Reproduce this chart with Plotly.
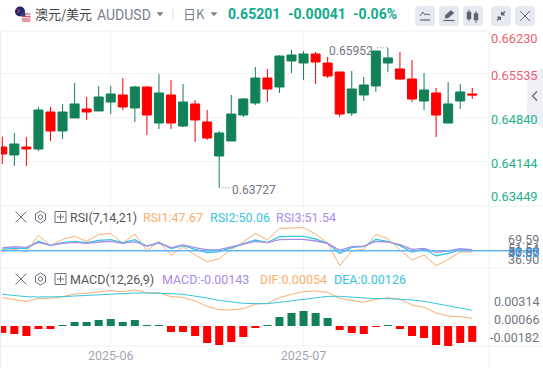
import plotly.graph_objects as go

W, H = 543, 368

open_ = [.64373,.64246,.64373,.64341,.64930,.64628,.64835,.64978,.64946,.65089,.65201,.64994,.65328,.64755,.65201,.64707,.65058,.64771,.64230,.64469,
         .64882,.65073,.65471,.65328,.65742,.65710,.65853,.65710,.65567,.64914,.65201,.65344,.65710,.65615,.65455,.65105,.65233,.64755,.65105,.65217]
high =  [.64538,.64596,.64532,.65010,.65010,.65058,.65392,.65169,.65344,.65344,.65471,.65344,.65344,.65535,.65440,.65376,.65121,.64962,.64628,.65201,
         .65153,.65646,.65615,.65837,.65917,.65901,.65885,.65806,.65567,.65583,.65487,.65901,.65952,.65885,.65758,.65551,.65312,.65408,.65376,.65312]
low =   [.64103,.64071,.64071,.64310,.64469,.64501,.64835,.64803,.64946,.64898,.64962,.64771,.64564,.64660,.64660,.64692,.64453,.64485,.63727,.64469,
         .64851,.65042,.65089,.65233,.65551,.65440,.65376,.65471,.64851,.64867,.65105,.65249,.65567,.65440,.65089,.64962,.64532,.64755,.64978,.65137]
close = [.64262,.64421,.64341,.64962,.64628,.64930,.65058,.64930,.65169,.65217,.65010,.65328,.64882,.65233,.64755,.65089,.64803,.64516,.64596,.64898,
         .65137,.65471,.65296,.65821,.65837,.65853,.65726,.65503,.64898,.65296,.65360,.65901,.65790,.65455,.65137,.65280,.64882,.65058,.65249,.65201]

rsi1 = [48.4,52.2,48.4,75.1,58.2,68.5,73.4,65.3,76.1,78.3,62.0,77.2,50.0,65.3,42.4,56.5,42.9,32.0,36.9,52.2,
        64.2,78.3,67.4,86.5,87.0,87.6,77.2,62.0,25.5,49.5,52.2,76.7,69.6,51.1,34.7,42.9,25.5,35.8,47.8,47.67]
rsi2 = [52.2,54.4,53.3,65.3,58.7,63.1,65.3,63.1,66.9,68.0,63.1,68.0,57.1,63.6,53.3,58.2,52.2,46.7,48.4,54.9,
        61.4,67.4,63.1,72.9,73.4,73.4,69.1,62.0,45.6,55.4,56.5,68.5,65.3,58.2,47.8,52.7,41.8,45.6,51.6,50.06]
rsi3 = [54.4,56.5,55.4,63.6,58.7,62.0,63.6,62.0,64.2,65.3,62.0,64.7,57.6,62.5,54.9,59.3,54.9,51.1,51.6,56.5,
        60.9,65.3,63.1,68.0,68.5,68.5,65.8,62.0,50.5,56.5,57.6,65.3,64.2,59.8,52.2,53.8,47.3,49.5,53.3,51.54]
rsi_flat = 50.00

dif = [.00240,.00222,.00204,.00234,.00234,.00249,.00273,.00279,.00291,.00303,.00294,.00309,.00285,.00285,.00249,.00243,.00210,.00162,.00132,.00129,
       .00141,.00183,.00189,.00240,.00270,.00294,.00300,.00288,.00234,.00213,.00198,.00225,.00240,.00225,.00174,.00153,.00102,.00075,.00069,.00054]
dea = [.00270,.00258,.00249,.00246,.00246,.00249,.00255,.00261,.00264,.00270,.00276,.00282,.00282,.00282,.00276,.00270,.00255,.00237,.00216,.00201,
       .00189,.00186,.00186,.00198,.00210,.00225,.00240,.00252,.00252,.00243,.00234,.00231,.00231,.00228,.00219,.00207,.00186,.00165,.00144,.00126]
hist = [-.00063,-.00072,-.00090,-.00027,-.00027,.00005,.00036,.00036,.00054,.00063,.00036,.00054,.00005,.00005,-.00054,-.00054,-.00090,-.00153,-.00171,-.00144,
        -.00099,-.00010,.00005,.00081,.00117,.00135,.00117,.00072,-.00036,-.00063,-.00072,-.00009,.00005,-.00027,-.00090,-.00108,-.00171,-.00180,-.00153,-.00143]

price_ticks = [.66230,.65535,.64840,.64144,.63449]
date_ticks = [9, 25]
date_labels = ["2025-06", "2025-07"]
macd_labels = ["0.00314", "0.00066", "-0.00182"]

GREEN, RED = "#128158", "#ff0000"
ORANGE, CYAN, PURPLE = "#f9ae6d", "#35c6df", "#a98be8"
GRID, SEP = "#f3f4f7", "#eef0f3"
GREY = "#72757f"
idx = list(range(len(close)))


def px(x):
    return x / W


def py(y):
    return 1 - y / H


fig = go.Figure()
fig.add_trace(go.Candlestick(x=idx, open=open_, high=high, low=low, close=close, xaxis="x", yaxis="y",
                             increasing=dict(line=dict(color=GREEN, width=1), fillcolor=GREEN),
                             decreasing=dict(line=dict(color=RED, width=1), fillcolor=RED),
                             whiskerwidth=0))
# dotted leaders for the extreme labels
fig.add_trace(go.Scatter(x=[18, 18.85], y=[min(low)] * 2, mode="lines", line=dict(color="#888", width=1, dash="1px 2px"), xaxis="x", yaxis="y"))
fig.add_trace(go.Scatter(x=[31.1, 32], y=[max(high)] * 2, mode="lines", line=dict(color="#888", width=1, dash="1px 2px"), xaxis="x", yaxis="y"))

for vals, col in ((rsi1, ORANGE), (rsi2, CYAN), (rsi3, PURPLE)):
    w = 1 if col == ORANGE else 1.3
    fig.add_trace(go.Scatter(x=idx, y=vals, mode="lines", line=dict(color=col, width=w), xaxis="x2", yaxis="y2"))

fig.add_trace(go.Bar(x=idx, y=hist, width=0.665, marker=dict(color=[GREEN if v > 0 else RED for v in hist], line=dict(width=0)),
                     xaxis="x3", yaxis="y4"))
fig.add_trace(go.Scatter(x=idx, y=dif, mode="lines", line=dict(color=ORANGE, width=1), xaxis="x3", yaxis="y3"))
fig.add_trace(go.Scatter(x=idx, y=dea, mode="lines", line=dict(color=CYAN, width=1), xaxis="x3", yaxis="y3"))

xrange_ = [-0.108, 40.39]
xdom = [px(1), px(489)]
xcommon = dict(domain=xdom, range=xrange_, tickmode="array", tickvals=date_ticks, showgrid=True, gridcolor=GRID,
               gridwidth=1, zeroline=False, showline=False, ticks="", fixedrange=True)
ycommon = dict(side="right", showticklabels=False, zeroline=False, showline=False, ticks="", fixedrange=True)

annos = []


def text(x, y, s, color=GREY, size=12.5, anchor="left", bold=False, family="Roboto, 'Noto Sans CJK SC', sans-serif"):
    annos.append(dict(x=px(x), y=py(y), xref="paper", yref="paper", text=f"<b>{s}</b>" if bold else s, showarrow=False,
                      xanchor=anchor, yanchor="middle", font=dict(color=color, size=size, family=family),
                      borderpad=0, borderwidth=0))


# right-hand price labels positioned through the price axis, nudged inward at the extremes
shifts = [-8, -2, -2, -2, 9]
for p, sh in zip(price_ticks, shifts):
    annos.append(dict(x=px(540), y=p, xref="paper", yref="y", text=f"{p:.5f}", showarrow=False, xanchor="right", yanchor="middle",
                      yshift=sh, font=dict(size=12.8, color="#e8616f" if p > close[-1] else "#1fae8e",
                                           family="Roboto, sans-serif")))
annos.append(dict(x=18, y=min(low), xref="x", yref="y", text="0.63727", showarrow=False, xanchor="left", yanchor="middle",
                  xshift=11, yshift=-2, font=dict(size=12, color=GREY, family="Roboto, sans-serif")))
annos.append(dict(x=32, y=max(high), xref="x", yref="y", text="0.65952", showarrow=False, xanchor="right", yanchor="middle",
                  xshift=-13, yshift=-3, font=dict(size=12, color=GREY, family="Roboto, sans-serif")))

# header
text(35, 13.5, "澳元/美元", "#444", 13, family="'Noto Sans CJK SC', sans-serif")
text(97, 15, "AUDUSD", "#7b7f8e", 14)
text(183, 13.5, "日K", "#7b7f8e", 13, family="'Noto Sans CJK SC', sans-serif")
text(228, 14, "0.65201", "#0dab8c", 14, bold=True)
text(288, 14, "-0.00041", "#0dab8c", 14, bold=True)
text(353, 14, "-0.06%", "#0dab8c", 14, bold=True)

# RSI legend and labels
text(70, 217.5, "RSI(7,14,21)", "#555", 12.5)
text(143, 217.5, f"RSI1:{rsi1[-1]:.2f}", ORANGE, 12.5)
text(210, 217.5, f"RSI2:{rsi2[-1]:.2f}", CYAN, 12.5)
text(276, 217.5, f"RSI3:{rsi3[-1]:.2f}", PURPLE, 12.5)
for s, y, c in (("69.59", 239.5, GREY), (f"{rsi3[-1]:.2f}", 248.5, GREY), (f"{rsi1[-1]:.2f}", 252.5, GREY),
                (f"{rsi2[-1]:.2f}", 251, GREY), ("36.90", 259.5, GREY), (f"{rsi_flat:.2f}", 252, "#2f9df2")):
    text(539, y, s, c, 12.5, anchor="right")

# MACD legend and labels
text(70, 279.5, "MACD(12,26,9)", "#555", 12.5)
text(162, 279.5, f"MACD:{hist[-1]:.5f}", PURPLE, 12.5)
text(260, 279.5, f"DIF:{dif[-1]:.5f}", ORANGE, 12.5)
text(334, 279.5, f"DEA:{dea[-1]:.5f}", CYAN, 12.5)
for s, y in zip(macd_labels, (301.5, 319.5, 337.5)):
    text(539, y, s, GREY, 12.5, anchor="right")

shapes = []


def line(x0, y0, x1, y1, color=SEP, width=1):
    shapes.append(dict(type="line", xref="paper", yref="paper", x0=px(x0), y0=py(y0), x1=px(x1), y1=py(y1),
                       line=dict(color=color, width=width), layer="below"))


def path(points, color="#70737f", width=1.2, fill=None, closed=False, layer="above"):
    d = "M" + " L".join(f"{px(a):.5f},{py(b):.5f}" for a, b in points) + (" Z" if closed else "")
    shapes.append(dict(type="path", xref="paper", yref="paper", path=d, fillcolor=fill or "rgba(0,0,0,0)",
                       line=dict(color=color, width=width), layer=layer))


def rrect(x0, y0, x1, y1, r=4, fill="#e7e9f0"):
    d = (f"M{px(x0+r):.5f},{py(y0):.5f} L{px(x1-r):.5f},{py(y0):.5f} Q{px(x1):.5f},{py(y0):.5f} {px(x1):.5f},{py(y0+r):.5f} "
         f"L{px(x1):.5f},{py(y1-r):.5f} Q{px(x1):.5f},{py(y1):.5f} {px(x1-r):.5f},{py(y1):.5f} "
         f"L{px(x0+r):.5f},{py(y1):.5f} Q{px(x0):.5f},{py(y1):.5f} {px(x0):.5f},{py(y1-r):.5f} "
         f"L{px(x0):.5f},{py(y0+r):.5f} Q{px(x0):.5f},{py(y0):.5f} {px(x0+r):.5f},{py(y0):.5f} Z")
    shapes.append(dict(type="path", xref="paper", yref="paper", path=d, fillcolor=fill, line=dict(width=0), layer="above"))


def circle(cx, cy, r, fill):
    shapes.append(dict(type="circle", xref="paper", yref="paper", x0=px(cx - r), x1=px(cx + r), y0=py(cy + r), y1=py(cy - r),
                       fillcolor=fill, line=dict(width=0), layer="above"))


# pane frame
line(1, 31, 489, 31)
line(1, 206, W, 206)
line(1, 268, W, 268)
line(1, 346, W, 346)
line(489, 31, 489, H, SEP)
line(0.5, 31, 0.5, H, "#e8eaf0")

# flat RSI reference line
shapes.append(dict(type="line", xref="paper", yref="y2", x0=px(1), x1=px(537), y0=rsi_flat, y1=rsi_flat,
                   line=dict(color="#64b5f6", width=1.6), layer="above"))

# flags
circle(20, 11.5, 5, "#1c2a6d")
path([(17, 9), (20, 11), (17, 13)], "#d8404f", 1)
circle(26, 17.5, 5, "#f3dfe0")
for yy in (14, 16.5, 19, 21):
    path([(22, yy), (30.5, yy)], "#d9505f", 1)
path([(21.5, 12.5), (25, 12.5), (25, 16), (21.5, 16)], "#3a3f7a", 0.5, "#3a3f7a", True)

# dropdown triangles and divider
path([(157, 12.5), (163, 12.5), (160, 16)], "#7b7f8e", 0.5, "#7b7f8e", True)
path([(211, 12.5), (217, 12.5), (214, 16)], "#7b7f8e", 0.5, "#7b7f8e", True)
line(173, 9, 173, 20, "#d5d8df")

# toolbar buttons
for a, b in ((415, 435), (439, 459), (463, 483), (491, 511), (515, 535)):
    rrect(a, 6, b, 26)
path([(420, 20), (430, 20)], "#5f6270", 1.2)
path([(420, 16), (423, 12), (425, 15), (427, 14), (430, 15)], "#5f6270", 1)
path([(443.5, 20.5), (454.5, 20.5)], "#5f6270", 1.2)
path([(445, 18), (445.5, 15), (451, 10.5), (454, 13), (448, 18)], "#5f6270", 0.5, "#5f6270", True)
for x0, t, b, wt, wb in ((469, 12, 19, 9.5, 21), (476, 13.5, 20, 11, 23)):
    path([(x0 - 2, t), (x0 + 2, t), (x0 + 2, b), (x0 - 2, b)], "#5f6270", 0.5, "#5f6270", True)
    path([(x0, wt), (x0, wb)], "#5f6270", 1)
path([(497, 20.5), (500, 17.5)], "#5f6270", 1.4)
path([(497.5, 17), (500.5, 17), (500.5, 20)], "#5f6270", 1, "#5f6270", True)
path([(505, 11.5), (502, 14.5)], "#5f6270", 1.4)
path([(501.5, 12), (501.5, 15), (504.5, 15)], "#5f6270", 1, "#5f6270", True)
path([(520, 11), (530, 21)], "#6c6f7c", 1)
path([(530, 11), (520, 21)], "#6c6f7c", 1)

# side tab
path([(543, 68), (533, 71), (527.5, 78), (527, 118), (543, 127)], "rgba(0,0,0,0)", 0, "#eef0f5", True, "below")
path([(537, 91.5), (532.5, 96), (537, 100.5)], "#70737f", 1.5)

# pane icons
for cy in (217, 279):
    path([(15.5, cy - 5.5), (26.5, cy + 5.5)], "#6c6f7c", 1)
    path([(26.5, cy - 5.5), (15.5, cy + 5.5)], "#6c6f7c", 1)
    path([(40.5, cy - 6), (45.5, cy - 3), (45.5, cy + 3), (40.5, cy + 6), (35.5, cy + 3), (35.5, cy - 3)], "#6c6f7c", 1, None, True)
    path([(38.3, cy), (39, cy - 1.7), (40.5, cy - 2.3), (42, cy - 1.7), (42.7, cy), (42, cy + 1.7), (40.5, cy + 2.3), (39, cy + 1.7)], "#6c6f7c", 1, None, True)
    path([(55, cy - 5.5), (66, cy - 5.5), (66, cy + 5.5), (55, cy + 5.5)], "#6c6f7c", 1, None, True)
    path([(60.5, cy - 3.5), (60.5, cy + 3.5)], "#6c6f7c", 1)
    path([(57, cy), (64, cy)], "#6c6f7c", 1)

fig.update_layout(
    width=W, height=H, margin=dict(l=0, r=0, t=0, b=0, pad=0), autosize=False,
    paper_bgcolor="#ffffff", plot_bgcolor="#ffffff", showlegend=False, boxgap=0.25, boxgroupgap=0, barmode="overlay",
    xaxis=dict(**xcommon, anchor="y", showticklabels=False, rangeslider=dict(visible=False)),
    xaxis2=dict(**xcommon, anchor="y2", showticklabels=False),
    xaxis3=dict(**xcommon, anchor="y3", showticklabels=True, ticktext=date_labels, ticklen=0,
                tickfont=dict(size=12.5, color="#a3a6b1", family="Roboto, sans-serif")),
    yaxis=dict(**ycommon, domain=[py(206), py(30.2)], range=[.63434, .66232], tickmode="array", tickvals=price_ticks[1:4],
               showgrid=True, gridcolor=GRID, anchor="x"),
    yaxis2=dict(**ycommon, domain=[py(268), py(206)], range=[21.7, 123], showgrid=False, anchor="x2"),
    yaxis3=dict(**ycommon, domain=[py(346), py(268)], range=[-.00195, .00507], showgrid=False, anchor="x3"),
    yaxis4=dict(**ycommon, domain=[py(346), py(268)], range=[-.00180, .00522], showgrid=False, overlaying="y3", anchor="x3"),
    annotations=annos, shapes=shapes,
)
fig.write_html("out.html", config={"displayModeBar": False},
               post_script="document.documentElement.style.margin='0';document.body.style.margin='0';document.body.style.overflow='hidden';")
